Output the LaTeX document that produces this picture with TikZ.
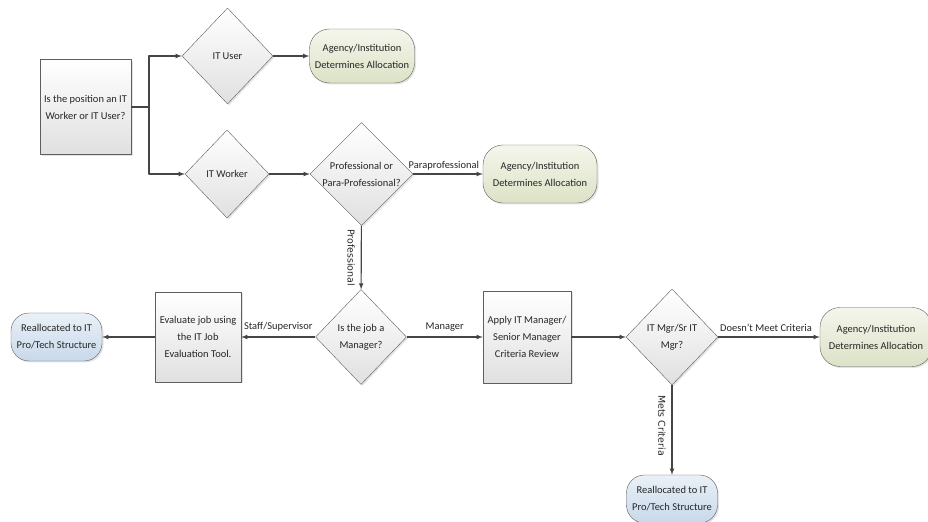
\documentclass[tikz,border=0pt]{standalone}
\usepackage{fontspec}
\setmainfont{Carlito}
\newfontfamily\vertfont{DejaVu Sans}
\usetikzlibrary{shapes.geometric,shadows}
\definecolor{linegray}{HTML}{454545}
\definecolor{edgegray}{HTML}{5E5E5E}
\definecolor{boxlow}{HTML}{E0E0E0}
\definecolor{greentop}{HTML}{F4F6EC}
\definecolor{greenlow}{HTML}{DCE2C6}
\definecolor{bluetop}{HTML}{EAF0F7}
\definecolor{bluelow}{HTML}{C8D9EB}
\tikzset{
  every node/.style={font=\fontsize{10.5}{17}\selectfont, align=center, text=black!85},
  softshadow/.style={drop shadow={shadow xshift=1.5bp, shadow yshift=-1.5bp, opacity=0.22}},
  procbox/.style={rectangle, draw=edgegray, top color=white, bottom color=boxlow, inner sep=0pt, softshadow},
  decision/.style={diamond, aspect=1, draw=edgegray, top color=white, bottom color=boxlow, inner sep=0pt, softshadow},
  agencyend/.style={rectangle, rounded corners=20bp, draw=edgegray, top color=greentop, bottom color=greenlow,
    minimum width=106bp, minimum height=55bp, inner sep=0pt, softshadow},
  reallocend/.style={rectangle, rounded corners=18bp, draw=edgegray, top color=bluetop, bottom color=bluelow,
    minimum width=91bp, minimum height=48bp, inner sep=0pt, softshadow},
  flow/.style={draw=linegray, line width=1.1bp},
  vlabel/.style={font=\vertfont\fontsize{9.5}{11}\selectfont, rotate=-90, anchor=north, inner sep=6bp},
}
\begin{document}
\begin{tikzpicture}[>=latex,line join=bevel,]
\useasboundingbox (0bp,0bp) rectangle (928bp,522bp);
%%
\node (q_pos) at (85.5bp,415bp) [procbox,minimum width=91bp,minimum height=95bp] {Is the position an IT\\Worker or IT User?};
  \node (d_user) at (227.5bp,466bp) [decision,minimum width=91bp,minimum height=96bp] {IT User};
  \node (d_worker) at (227bp,348bp) [decision,minimum width=84bp,minimum height=88bp] {IT Worker};
  \node (t_agency1) at (362bp,466bp) [agencyend,minimum width=105bp,minimum height=54bp] {Agency/Institution\\Determines Allocation};
  \node (d_prof) at (361.5bp,348bp) [decision,minimum width=103bp,minimum height=103bp] {Professional or\\Para-Professional?};
  \node (t_agency2) at (540bp,348bp) [agencyend,minimum width=114bp,minimum height=58bp] {Agency/Institution\\Determines Allocation};
  \node (d_mgr) at (361bp,185bp) [decision,minimum width=91bp,minimum height=95bp] {Is the job a\\Manager?};
  \node (p_eval) at (198bp,185bp) [procbox,minimum width=86bp,minimum height=90bp] {Evaluate job using\\the IT Job\\Evaluation Tool.};
  \node (t_realloc1) at (56.5bp,185bp) [reallocend] {Reallocated to IT\\Pro/Tech Structure};
  \node (p_apply) at (527bp,185bp) [procbox,minimum width=88bp,minimum height=92bp] {Apply IT Manager/\\Senior Manager\\Criteria Review};
  \node (d_itmgr) at (672bp,185bp) [decision,minimum width=92bp,minimum height=96bp] {IT Mgr/Sr IT\\Mgr?};
  \node (t_agency3) at (876bp,185bp) [agencyend,minimum width=112bp,minimum height=59bp] {Agency/Institution\\Determines Allocation};
  \node (t_realloc2) at (672bp,23bp) [reallocend] {Reallocated to IT\\Pro/Tech Structure};
  \coordinate (split) at (149bp,415bp);
%
  \draw [flow] (q_pos) -- (split);
  \draw [flow,->] (split) |- (d_user);
  \draw [flow,->] (split) |- (d_worker);
  \draw [flow,->] (d_user) -- (t_agency1);
  \draw [flow,->] (d_worker) -- (d_prof);
  \draw [flow,->] (d_prof) -- node [above,inner sep=3bp,pos=0.44] {Paraprofessional} (t_agency2);
  \draw [flow,->] (d_prof) -- node [vlabel] {Professional} (d_mgr);
  \draw [flow,->] (d_mgr) -- node [above,inner sep=5bp] {Staff/Supervisor} (p_eval);
  \draw [flow,->] (p_eval) -- (t_realloc1);
  \draw [flow,->] (d_mgr) -- node [above,inner sep=5bp] {Manager} (p_apply);
  \draw [flow,->] (p_apply) -- (d_itmgr);
  \draw [flow,->] (d_itmgr) -- node [above,inner sep=5bp,pos=0.47] {Doesn’t Meet Criteria} (t_agency3);
  \draw [flow,->] (d_itmgr) -- node [vlabel,pos=0.45] {Mets Criteria} (t_realloc2);
%
\end{tikzpicture}
\end{document}
